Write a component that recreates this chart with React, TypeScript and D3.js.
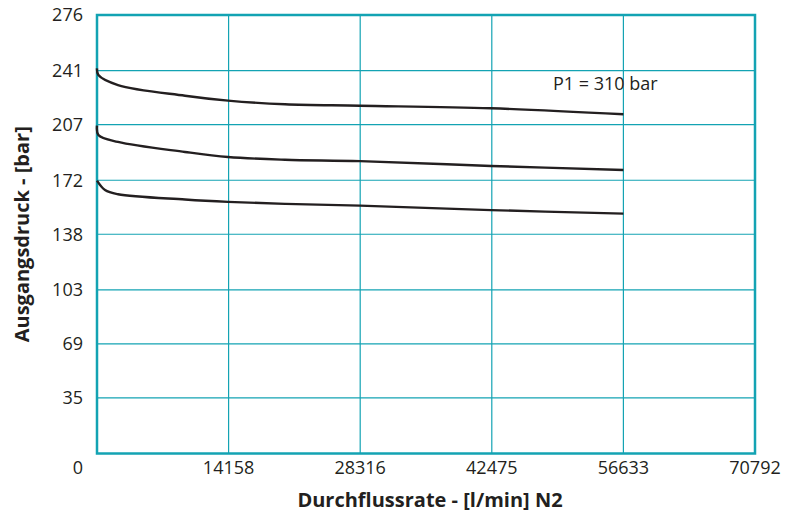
import * as d3 from "d3";
import { useEffect, useRef } from "react";

// flow rate in l/min N2, pressure in bar
const xTicks = [0, 14158, 28316, 42475, 56633, 70792];
const yTicks = [0, 35, 69, 103, 138, 172, 207, 241, 276];

const flowTop = [0, 150, 2259, 9468, 14094, 20226, 28296, 42389, 56633];
const pressTop = [242.4, 238.2, 231.9, 225.2, 222.1, 219.8, 218.9, 217.3, 213.5];

const flowMid = [0, 150, 2259, 9468, 14094, 20226, 28296, 42389, 56633];
const pressMid = [206.3, 200.5, 196.1, 189.8, 186.6, 184.9, 184.0, 181.0, 178.4];

const flowLow = [0, 861, 2259, 9468, 14094, 20226, 28296, 42389, 56633];
const pressLow = [171.7, 165.8, 163.2, 159.9, 158.4, 157.1, 156.0, 153.2, 151.0];

const curveLabel = "P1 = 310 bar";
const labelPos = [49060, 232.6];

const teal = "#13a3b3";
const ink = "#231f20";
const font = "'Open Sans', sans-serif";

export default function App() {
  const svgRef = useRef<SVGSVGElement | null>(null);

  useEffect(() => {
    if (!svgRef.current) return;
    const width = 798;
    const height = 517;
    const margin = { top: 15, right: 43, bottom: 63.5, left: 97 };

    d3.select(svgRef.current).selectAll("*").remove();
    const svg = d3.select(svgRef.current).attr("width", width).attr("height", height);

    const x = d3
      .scaleLinear()
      .domain([0, 70792])
      .range([margin.left, width - margin.right]);
    const y = d3
      .scaleLinear()
      .domain([0, 276])
      .range([height - margin.bottom, margin.top]);

    // grid
    svg
      .append("g")
      .selectAll("line")
      .data(xTicks.slice(1, -1))
      .join("line")
      .attr("x1", (d) => x(d))
      .attr("x2", (d) => x(d))
      .attr("y1", y(0))
      .attr("y2", y(276))
      .attr("stroke", teal)
      .attr("stroke-width", 1.2);

    svg
      .append("g")
      .selectAll("line")
      .data(yTicks.slice(1, -1))
      .join("line")
      .attr("x1", x(0))
      .attr("x2", x(70792))
      .attr("y1", (d) => y(d))
      .attr("y2", (d) => y(d))
      .attr("stroke", teal)
      .attr("stroke-width", 1.2);

    // frame
    svg
      .append("rect")
      .attr("x", x(0))
      .attr("y", y(276))
      .attr("width", x(70792) - x(0))
      .attr("height", y(0) - y(276))
      .attr("fill", "none")
      .attr("stroke", teal)
      .attr("stroke-width", 2.5);

    // y tick labels
    svg
      .append("g")
      .selectAll("text")
      .data(yTicks)
      .join("text")
      .attr("x", 83)
      .attr("y", (d) => (d === 0 ? y(0) + 14 : y(d)))
      .attr("dy", "0.35em")
      .attr("text-anchor", "end")
      .attr("font-family", font)
      .attr("font-size", 18)
      .attr("fill", ink)
      .text((d) => String(d));

    // x tick labels
    svg
      .append("g")
      .selectAll("text")
      .data(xTicks.slice(1))
      .join("text")
      .attr("x", (d) => x(d))
      .attr("y", y(0) + 14)
      .attr("dy", "0.35em")
      .attr("text-anchor", "middle")
      .attr("font-family", font)
      .attr("font-size", 18)
      .attr("fill", ink)
      .text((d) => String(d));

    // axis titles
    svg
      .append("text")
      .attr("x", 430)
      .attr("y", 500)
      .attr("dy", "0.35em")
      .attr("text-anchor", "middle")
      .attr("font-family", font)
      .attr("font-weight", "bold")
      .attr("font-size", 20)
      .attr("fill", ink)
      .text("Durchflussrate - [l/min] N2");

    svg
      .append("text")
      .attr("transform", `translate(22,${(y(0) + y(276)) / 2}) rotate(-90)`)
      .attr("dy", "0.35em")
      .attr("text-anchor", "middle")
      .attr("font-family", font)
      .attr("font-weight", "bold")
      .attr("font-size", 20)
      .attr("fill", ink)
      .text("Ausgangsdruck - [bar]");

    // curves
    const line = d3
      .line<[number, number]>()
      .x((d) => x(d[0]))
      .y((d) => y(d[1]))
      .curve(d3.curveCatmullRom.alpha(0.5));

    const series = [
      d3.zip(flowTop, pressTop),
      d3.zip(flowMid, pressMid),
      d3.zip(flowLow, pressLow),
    ] as [number, number][][];

    svg
      .append("g")
      .selectAll("path")
      .data(series)
      .join("path")
      .attr("d", (d) => line(d))
      .attr("fill", "none")
      .attr("stroke", ink)
      .attr("stroke-width", 2.4);

    svg
      .append("text")
      .attr("x", x(labelPos[0]))
      .attr("y", y(labelPos[1]))
      .attr("dy", "0.35em")
      .attr("font-family", font)
      .attr("font-size", 18)
      .attr("fill", ink)
      .text(curveLabel);
  }, []);

  return (
    <svg
      ref={svgRef}
      style={{ position: "absolute", left: 0, top: 0, background: "#fff" }}
    />
  );
}
